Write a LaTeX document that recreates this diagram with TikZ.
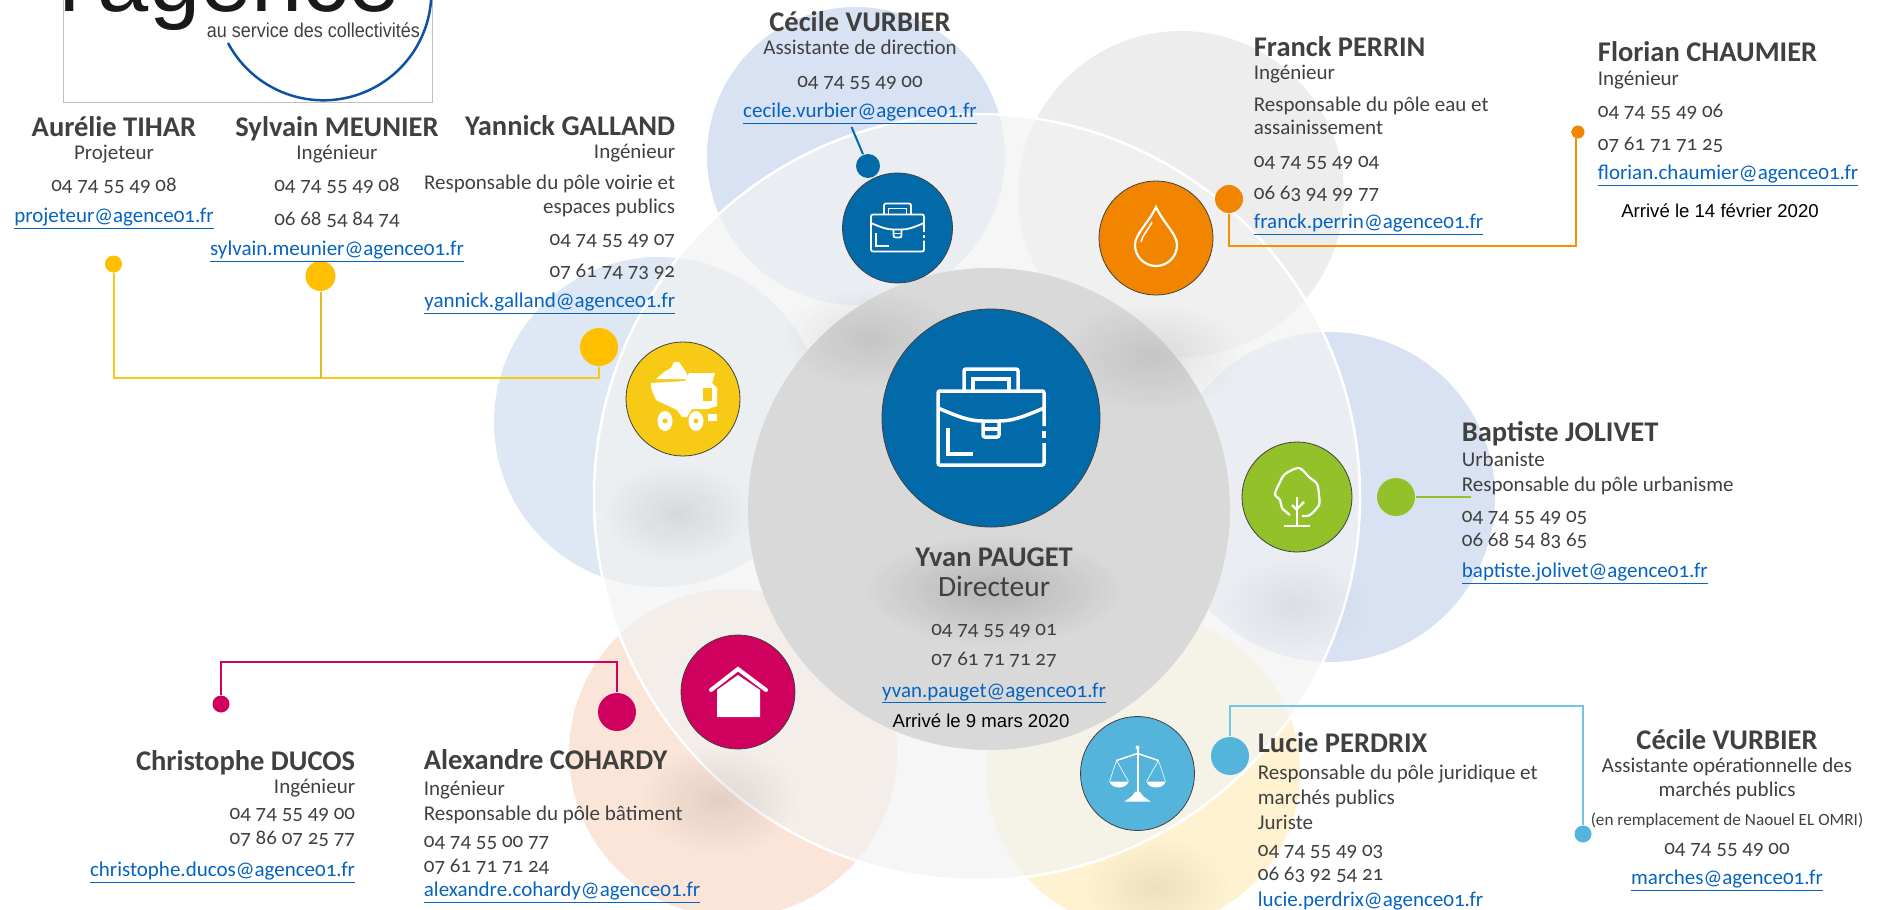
\documentclass[tikz,border=0pt]{standalone}
\usepackage{fontspec}
\setmainfont{Carlito}[Numbers=OldStyle]
\newfontfamily\arialfont{Liberation Sans}
\usetikzlibrary{fadings}
\definecolor{texte}{HTML}{404040}
\definecolor{lien}{HTML}{0563C1}
\definecolor{bleu}{HTML}{036AAA}
\definecolor{orange1}{HTML}{F28500}
\definecolor{jaune}{HTML}{F7CB15}
\definecolor{jaunedot}{HTML}{FFC000}
\definecolor{vert}{HTML}{92C12A}
\definecolor{rose}{HTML}{D0005F}
\definecolor{ciel}{HTML}{55B4DC}
\definecolor{logobleu}{HTML}{0F52A0}
\definecolor{petalbleu}{HTML}{D9E2F3}
\definecolor{petalclair}{HTML}{DEE8F4}
\definecolor{petalgris}{HTML}{EDEDED}
\definecolor{petalpeche}{HTML}{FAE5D8}
\definecolor{petaljaune}{HTML}{FEF2D0}
\lineskiplimit=-50pt
\tikzfading[name=blobfade, inner color=transparent!0, outer color=transparent!100]
\newcommand{\nomp}[1]{{\fontsize{28.5}{20}\selectfont\bfseries #1}}
\newcommand{\courriel}[1]{\textcolor{lien}{\underline{#1}}}
\tikzstyle{petal} = [circle, inner sep=0pt, draw=none]
\tikzstyle{disk} = [circle, inner sep=0pt, minimum size=114pt, draw=texte, line width=0.8pt]
\tikzstyle{dot} = [circle, inner sep=0pt]
\tikzstyle{person} = [inner sep=0pt, text=texte, font=\fontsize{21}{20}\selectfont]
\tikzstyle{arrive} = [inner sep=0pt, text=black, font=\arialfont\fontsize{18.6}{20}\selectfont]
\tikzstyle{link} = [line width=2pt]
\tikzstyle{blob} = [black, path fading=blobfade]
\tikzset{
  briefcase/.pic={
    \draw[white, rounded corners=2pt] (53,8) -- (53,-27) -- (-53,-27) -- (-53,47) -- (53,47) -- (53,25);
    \draw[white] (53,13) -- (53,20);
    \draw[white, rounded corners=2pt] (-27,-27) -- (-27,-49) -- (27,-49) -- (27,-27);
    \draw[white] (-18,-27) -- (-18,-39) -- (18,-39) -- (18,-27);
    \draw[white] (-53,-10) .. controls (-30,0) and (-20,3) .. (-8,3) -- (8,3) .. controls (20,3) and (30,0) .. (53,-10);
    \draw[white, rounded corners=2pt] (-8,3) -- (-8,19) -- (8,19) -- (8,3);
    \draw[white] (-8,11) -- (8,11);
    \draw[white] (-43,10) -- (-43,36) -- (-18,36);
  },
  droplet/.pic={
    \draw[white, line width=2.2pt] (0,-31) .. controls (-8,-14) and (-21,-4) .. (-21,7) arc[start angle=180, end angle=0, radius=21] .. controls (21,-4) and (8,-14) .. (0,-31) -- cycle;
    \draw[white, line width=1.5pt] (-4,-16) .. controls (-8,-8) and (-14,-2) .. (-15,4);
  },
  truck/.pic={
    \fill[white] (-32,-16) -- (2,-18) -- (6,-26) -- (32,-26) -- (29,-16) -- (34,-11) -- (34,7) -- (25,10) -- (9,10) -- (4,18) -- (-1,18) -- (-6,11) -- (-27,1) -- (-32,-11) -- cycle;
    \fill[white] (-27,-20) -- (-19,-27) -- (-12,-31) -- (-9,-37) -- (-4,-37) -- (3,-27) -- (6,-20) -- cycle;
    \fill[jaune] (20,-11) rectangle (29,2);
    \fill[white] (-18,22) ellipse (7.5 and 10);
    \fill[white] (13,22) ellipse (7.5 and 10);
    \fill[jaune] (-18,22) circle (2.5);
    \fill[jaune] (13,22) circle (2.5);
    \fill[white] (25,15) rectangle (34,22);
  },
  arbre/.pic={
    \draw[white, line width=2.2pt] plot[smooth] coordinates {(-7,18) (-15,11) (-17,3) (-22,-3) (-17,-15) (-12,-23) (2,-29) (12,-20) (20,-13) (22,-2) (22,8) (13,18) (5,19)};
    \draw[white, line width=2.2pt] (0,0) -- (0,29);
    \draw[white, line width=2.2pt] (-13,29) -- (13,29);
    \draw[white, line width=2.2pt] (0,12) -- (7,5);
    \draw[white, line width=2.2pt] (-5,8) -- (0,13);
  },
  balance/.pic={
    \draw[white, line width=2pt] (0,-26) -- (0,21);
    \fill[white] (0,-26) circle (2);
    \draw[white, line width=1.5pt] (-21,-13) -- (0,-20) -- (21,-13);
    \draw[white, line width=0.6pt] (-28,8) -- (-21,-13) -- (-9,8);
    \draw[white, line width=0.6pt] (9,8) -- (21,-13) -- (28,8);
    \fill[white] (-28,8) .. controls (-26,16) and (-11,16) .. (-9,8) -- cycle;
    \fill[white] (9,8) .. controls (11,16) and (26,16) .. (28,8) -- cycle;
    \fill[white] (-13,28) -- (-6,23) -- (-2,18) -- (2,18) -- (6,23) -- (13,28) -- cycle;
  },
  maison/.pic={
    \fill[white] (-21,-2) -- (0,-17) -- (22,-2) -- (22,25) -- (-21,25) -- cycle;
    \draw[white, line width=4pt, line cap=round] (-27,-2) -- (0,-23) -- (28,-2);
  }
}

\begin{document}
\begin{tikzpicture}[x=1pt, y=-1pt, line width=1.8pt]
        \useasboundingbox (0,0) rectangle (1879,910);
        \clip (0,0) rectangle (1879,910);

        \node (petaltop) [petal, fill=petalbleu, minimum size=298pt] at (856,156) {};
        \node (petalright) [petal, fill=petalgris, minimum size=326pt] at (1181,194) {};
        \node (petalurba) [petal, fill=petalbleu, minimum size=330pt] at (1330,497) {};
        \node (petalleft) [petal, fill=petalclair, minimum size=330pt] at (659,422) {};
        \node (petalpink) [petal, fill=petalpeche, minimum size=328pt] at (733,753) {};
        \node (petallaw) [petal, fill=petaljaune, minimum size=314pt] at (1143,772) {};

        \node (bigdisk) [circle, inner sep=0pt, minimum size=766pt, fill=gray!10, fill opacity=0.7, draw=white, line width=2.5pt] at (977,497) {};
        \node (graydisk) [circle, inner sep=0pt, minimum size=482pt, fill=gray!30] at (989,509) {};

        \fill[blob, opacity=0.09] (677,513) ellipse (75 and 50);
        \fill[blob, opacity=0.09] (870,338) ellipse (90 and 50);
        \fill[blob, opacity=0.09] (1150,356) ellipse (95 and 55);
        \fill[blob, opacity=0.06] (1294,605) ellipse (75 and 50);
        \fill[blob, opacity=0.09] (719,800) ellipse (80 and 55);
        \fill[blob, opacity=0.16] (994,590) ellipse (130 and 55);
        \fill[blob, opacity=0.07] (1156,887) ellipse (75 and 50);

        \node (mainicon) [disk, fill=bleu, minimum size=218pt] at (991,418) {};
        \node (directionicon) [disk, fill=bleu, minimum size=110pt] at (897.5,228) {};
        \node (eauicon) [disk, fill=orange1] at (1156,238) {};
        \node (voirieicon) [disk, fill=jaune] at (683,399) {};
        \node (urbaicon) [disk, fill=vert, minimum size=110pt] at (1297,497) {};
        \node (batimenticon) [disk, fill=rose] at (738,692) {};
        \node (droiticon) [disk, fill=ciel] at (1137.5,773.5) {};

        \pic[line width=3.5pt] at (991,418) {briefcase};
        \pic[line width=1.8pt, scale=0.5] at (897.5,228) {briefcase};
        \pic at (1156,238) {droplet};
        \pic at (683,399) {truck};
        \pic at (1297,497) {arbre};
        \pic at (738,692) {maison};
        \pic at (1137.5,773.5) {balance};

        \node (dotcecile) [dot, fill=bleu, minimum size=24pt] at (868,166) {};
        \node (dotfranck) [dot, fill=orange1, minimum size=28pt] at (1229,199) {};
        \node (dotflorian) [dot, fill=orange1, minimum size=13pt] at (1578,132) {};
        \node (dotbaptiste) [dot, fill=vert, minimum size=38pt] at (1396,497) {};
        \node (dotyannick) [dot, fill=jaunedot, minimum size=38pt] at (599,347) {};
        \node (dotsylvain) [dot, fill=jaunedot, minimum size=30pt] at (320.5,276) {};
        \node (dotaurelie) [dot, fill=jaunedot, minimum size=17pt] at (113.5,264) {};
        \node (dotalexandre) [dot, fill=rose, minimum size=38pt] at (617,712) {};
        \node (dotchristophe) [dot, fill=rose, minimum size=17pt] at (221,704) {};
        \node (dotlucie) [dot, fill=ciel, minimum size=38pt] at (1230,756) {};
        \node (dotmarches) [dot, fill=ciel, minimum size=17pt] at (1583,834) {};

        \coordinate (cecileend) at (851.5,127);
        \coordinate (baptisteend) at (1471,497);
        \coordinate (orangebus) at (1576,246);
        \coordinate (yellowbus) at (113.5,378);
        \coordinate (pinkbus) at (221,662);
        \coordinate (cielbus) at (1230,706);

        \draw [link, color=bleu] (dotcecile) -- (cecileend);
        \draw [link, color=vert] (dotbaptiste) -- (baptisteend);
        \draw [link, color=orange1!90!yellow] (dotfranck) |- (orangebus) |- (dotflorian);
        \draw [link, color=jaune] (dotyannick) |- (yellowbus) -- (dotaurelie);
        \draw [link, color=jaune!80!gray] (dotsylvain) -- (dotsylvain |- yellowbus);
        \draw [link, color=rose] (dotalexandre) |- (pinkbus) -- (dotchristophe);
        \draw [link, color=ciel!80!white] (dotlucie) -- (cielbus) -| (dotmarches);

        \draw [gray!50, line width=1pt] (63,-5) rectangle (432,102);
        \node (logoword) [anchor=base west, inner sep=0pt, text=black!90, font=\arialfont\fontsize{92}{92}\selectfont] at (59,12) {l'agence};
        \node (logotag) [anchor=west, inner sep=0pt, text=texte, xscale=0.9, font=\arialfont\fontsize{20}{22}\selectfont] at (206,30) {au service des collectivités};
        \draw [logobleu, line width=2.5pt] (228,43) arc[start angle=152, end angle=-10, radius=108];

        \node (aurelie) [person, anchor=north, align=center] at (114,116) {\nomp{Aurélie TIHAR}\\[3pt] Projeteur\\[12pt] 04 74 55 49 08\\[11pt] \courriel{projeteur@agence01.fr}};
        \node (sylvain) [person, anchor=north, align=center] at (337,116) {\nomp{Sylvain MEUNIER}\\[3pt] Ingénieur\\[12pt] 04 74 55 49 08\\[14pt] 06 68 54 84 74\\[10pt] \courriel{sylvain.meunier@agence01.fr}};
        \node (yannick) [person, anchor=north east, align=right] at (676,115) {\nomp{Yannick GALLAND}\\[3pt] Ingénieur\\[11pt] Responsable du pôle voirie et\\[4pt] espaces publics\\[12pt] 04 74 55 49 07\\[12pt] 07 61 74 73 92\\[10pt] \courriel{yannick.galland@agence01.fr}};
        \node (cecile) [person, anchor=north, align=center] at (860,11) {\nomp{Cécile VURBIER}\\[3pt] Assistante de direction\\[13pt] 04 74 55 49 00\\[10pt] \courriel{cecile.vurbier@agence01.fr}};
        \node (franck) [person, anchor=north west, align=left] at (1253,36) {\nomp{Franck PERRIN}\\[3pt] Ingénieur\\[12pt] Responsable du pôle eau et\\[3pt] assainissement\\[13pt] 04 74 55 49 04\\[12pt] 06 63 94 99 77\\[9pt] \courriel{franck.perrin@agence01.fr}};
        \node (florian) [person, anchor=north west, align=left] at (1597,41) {\nomp{Florian CHAUMIER}\\[4pt] Ingénieur\\[12pt] 04 74 55 49 06\\[13pt] 07 61 71 71 25\\[9pt] \courriel{florian.chaumier@agence01.fr}};
        \node (florianarrive) [arrive] at (1720,211) {Arrivé le 14 février 2020};
        \node (baptiste) [person, anchor=north west, align=left] at (1461,421) {\nomp{Baptiste JOLIVET}\\[5pt] Urbaniste\\[5pt] Responsable du pôle urbanisme\\[11pt] 04 74 55 49 05\\[4pt] 06 68 54 83 65\\[11pt] \courriel{baptiste.jolivet@agence01.fr}};
        \node (yvan) [person, anchor=north, align=center] at (994,547) {\nomp{Yvan PAUGET}\\[10pt] {\fontsize{29.5}{20}\selectfont Directeur}\\[19pt] 04 74 55 49 01\\[10pt] 07 61 71 71 27\\[12pt] \courriel{yvan.pauget@agence01.fr}};
        \node (yvanarrive) [arrive] at (981,721) {Arrivé le 9 mars 2020};
        \node (christophe) [person, anchor=north east, align=right] at (356,750) {\nomp{Christophe DUCOS}\\[3pt] Ingénieur\\[6pt] 04 74 55 49 00\\[5pt] 07 86 07 25 77\\[12pt] \courriel{christophe.ducos@agence01.fr}};
        \node (alexandre) [person, anchor=north west, align=left] at (423,749) {\nomp{Alexandre COHARDY}\\[6pt] Ingénieur\\[5pt] Responsable du pôle bâtiment\\[7pt] 04 74 55 00 77\\[5pt] 07 61 71 71 24\\[4pt] \courriel{alexandre.cohardy@agence01.fr}};
        \node (lucie) [person, anchor=north west, align=left] at (1257,732) {\nomp{Lucie PERDRIX}\\[7pt] Responsable du pôle juridique et\\[5pt] marchés publics\\[5pt] Juriste\\[7pt] 04 74 55 49 03\\[4pt] 06 63 92 54 21\\[6pt] \courriel{lucie.perdrix@agence01.fr}};
        \node (marches) [person, anchor=north, align=center] at (1727,729) {\nomp{Cécile VURBIER}\\[3pt] Assistante opérationnelle des\\[4pt] marchés publics\\[9pt] {\fontsize{17.2}{20}\selectfont (en remplacement de Naouel EL OMRI)}\\[9pt] 04 74 55 49 00\\[10pt] \courriel{marches@agence01.fr}};
\end{tikzpicture}
\end{document}
